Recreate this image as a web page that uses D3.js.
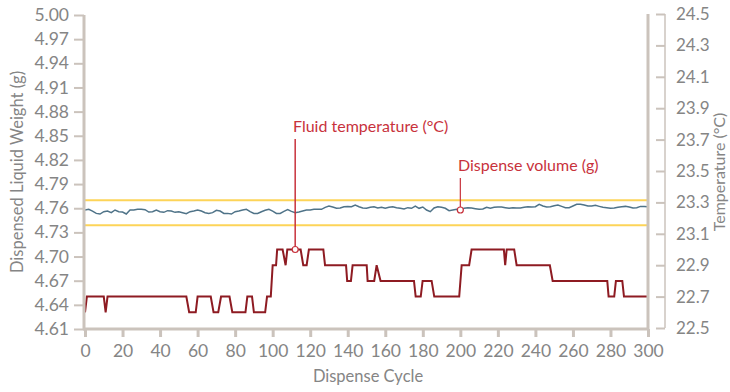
<!DOCTYPE html>
<html><head><meta charset="utf-8">
<script src="https://cdn.jsdelivr.net/npm/d3@7/dist/d3.min.js"></script>
<style>
body{margin:0;background:#fff;}
text{font-family:Lato,"Open Sans",sans-serif;}
</style></head>
<body><svg id="c" width="730" height="392"></svg>
<script>
const leftTicks = [5.00,4.97,4.94,4.91,4.88,4.85,4.82,4.79,4.76,4.73,4.70,4.67,4.64,4.61];
const rightTicks = [24.5,24.3,24.1,23.9,23.7,23.5,23.3,23.1,22.9,22.7,22.5];
const xTicks = [0,20,40,60,80,100,120,140,160,180,200,220,240,260,280,300];
const limitUpper = 4.77;
const limitLower = 4.739;
// dispense volume sampled every 2 cycles (0..300)
const volumeCycles = d3.range(0, 301, 2);
const volumeValues = [
4.7578,4.7586,4.7565,4.7536,4.7528,4.7557,4.7565,4.7545,4.7578,4.7557,
4.7553,4.7528,4.7578,4.7578,4.7586,4.7586,4.7582,4.7553,4.7557,4.7578,
4.7557,4.7549,4.7570,4.7565,4.7549,4.7557,4.7545,4.7532,4.7557,4.7565,
4.7578,4.7565,4.7545,4.7536,4.7545,4.7574,4.7565,4.7536,4.7536,4.7528,
4.7557,4.7565,4.7578,4.7586,4.7557,4.7536,4.7536,4.7557,4.7574,4.7586,
4.7565,4.7536,4.7536,4.7561,4.7582,4.7561,4.7545,4.7553,4.7565,4.7578,
4.7578,4.7586,4.7586,4.7586,4.7611,4.7627,4.7615,4.7599,4.7603,4.7619,
4.7623,4.7619,4.7640,4.7619,4.7603,4.7599,4.7611,4.7619,4.7603,4.7611,
4.7599,4.7611,4.7619,4.7607,4.7599,4.7590,4.7607,4.7599,4.7627,4.7599,
4.7615,4.7578,4.7557,4.7603,4.7619,4.7611,4.7599,4.7570,4.7578,4.7586,
4.7578,4.7599,4.7607,4.7603,4.7594,4.7586,4.7590,4.7611,4.7599,4.7611,
4.7615,4.7615,4.7607,4.7599,4.7607,4.7603,4.7603,4.7611,4.7619,4.7615,
4.7619,4.7648,4.7627,4.7615,4.7619,4.7632,4.7640,4.7623,4.7607,4.7607,
4.7627,4.7648,4.7648,4.7640,4.7627,4.7627,4.7636,4.7623,4.7611,4.7607,
4.7599,4.7603,4.7611,4.7619,4.7623,4.7615,4.7603,4.7607,4.7623,4.7623,
4.7619];
// fluid temperature step points
const tempCycles = [0,1,10,11,12,54,55.5,59,60,67,68.5,71,72.5,77,78.5,85.5,86.5,89,90,96,97,
99,100,101.8,102.4,105.3,106.9,107.8,114.9,116.3,118.1,119.3,127,127.9,139.1,139.7,141.7,142.6,
150.1,150.6,154.1,155.4,157.5,175.3,176.2,178.9,179.9,184.7,186.1,199.4,200.7,204.7,206,
223.2,223.9,224.7,228.7,230,247.7,249.2,278.3,279,282,282.9,286.3,287.2,300];
const tempValues = [22.6,22.7,22.7,22.6,22.7,22.7,22.6,22.6,22.7,22.7,22.6,22.6,22.7,22.7,22.6,22.6,22.7,22.7,22.6,22.6,22.7,
22.7,22.9,22.9,23.0,23.0,22.9,23.0,23.0,22.9,22.9,23.0,23.0,22.9,22.9,22.8,22.8,22.9,
22.9,22.8,22.8,22.9,22.8,22.8,22.7,22.7,22.8,22.8,22.7,22.7,22.9,22.9,23.0,
23.0,22.9,23.0,23.0,22.9,22.9,22.8,22.8,22.7,22.7,22.8,22.8,22.7,22.7];
const tempMarkCycle = 112, tempMarkValue = 23.0;
const volMarkCycle = 200;

const svg = d3.select("#c");
const x = d3.scaleLinear().domain([0,300]).range([85,648]);
const yL = d3.scaleLinear().domain([4.61,5.00]).range([329,15]);
const yR = d3.scaleLinear().domain([22.5,24.5]).range([328,14]);
const axisCol = "#cbc3bc", textCol = "#858585";

// yellow limit lines
[limitUpper, limitLower].forEach(v=>{
  svg.append("line").attr("x1",x(0)).attr("x2",x(300)).attr("y1",yL(v)).attr("y2",yL(v))
    .attr("stroke","#fdd458").attr("stroke-width",2);
});
// volume line
const vol = volumeCycles.map((c,i)=>[c,volumeValues[i]]);
svg.append("path").datum(vol).attr("fill","none").attr("stroke","#4f7388").attr("stroke-width",1.5)
  .attr("d", d3.line().x(d=>x(d[0])).y(d=>yL(d[1])));
// temperature line
const tmp = tempCycles.map((c,i)=>[c,tempValues[i]]);
svg.append("path").datum(tmp).attr("fill","none").attr("stroke","#8e1b22").attr("stroke-width",2)
  .attr("d", d3.line().x(d=>x(d[0])).y(d=>yR(d[1])));

// axes
const gL = svg.append("g").attr("transform","translate(84,0)")
  .call(d3.axisLeft(yL).tickValues(leftTicks).tickFormat(d3.format(".2f")).tickSize(10).tickPadding(5));
const gB = svg.append("g").attr("transform","translate(0,329)")
  .call(d3.axisBottom(x).tickValues(xTicks).tickSize(8).tickPadding(8));
const gR = svg.append("g").attr("transform","translate(665,0)")
  .call(d3.axisRight(yR).tickValues(rightTicks).tickFormat(d3.format(".1f")).tickSize(-9).tickPadding(11));
[gL,gB,gR].forEach(g=>{
  g.select(".domain").remove();
  g.selectAll(".tick line").attr("stroke",axisCol).attr("stroke-width",2);
  g.selectAll(".tick text").attr("fill",textCol).attr("font-size",17.5).attr("font-family","Lato,sans-serif");
});
gR.selectAll(".tick text").attr("font-size",17);
gB.selectAll(".tick line").attr("stroke-width",3);
svg.append("line").attr("x1",84).attr("x2",84).attr("y1",15).attr("y2",330).attr("stroke",axisCol).attr("stroke-width",3);
svg.append("line").attr("x1",83).attr("x2",649).attr("y1",329).attr("y2",329).attr("stroke",axisCol).attr("stroke-width",3);
svg.append("line").attr("x1",648).attr("x2",648).attr("y1",14).attr("y2",330).attr("stroke",axisCol).attr("stroke-width",3);
svg.append("line").attr("x1",665).attr("x2",665).attr("y1",yR(24.5)).attr("y2",yR(22.5)).attr("stroke",axisCol).attr("stroke-width",1.5);

// titles
svg.append("text").attr("transform","translate(23,172) rotate(-90)").attr("text-anchor","middle")
  .attr("fill",textCol).attr("font-size",16.5).text("Dispensed Liquid Weight (g)");
svg.append("text").attr("transform","translate(725,172) rotate(-90)").attr("text-anchor","middle")
  .attr("fill",textCol).attr("font-size",16).text("Temperature (°C)");
svg.append("text").attr("x",368).attr("y",382).attr("text-anchor","middle")
  .attr("fill",textCol).attr("font-size",16.5).text("Dispense Cycle");

// annotations
const annCol = "#c8323c";
const tx = x(tempMarkCycle), ty = yR(tempMarkValue);
svg.append("line").attr("x1",tx).attr("x2",tx).attr("y1",139).attr("y2",ty).attr("stroke",annCol).attr("stroke-width",1.5);
svg.append("circle").attr("cx",tx).attr("cy",ty).attr("r",3).attr("fill","#fff").attr("stroke",annCol).attr("stroke-width",1.2);
svg.append("text").attr("x",293).attr("y",132).attr("fill",annCol).attr("font-size",16).text("Fluid temperature (°C)");
const vi = volumeCycles.indexOf(volMarkCycle);
const vx = x(volMarkCycle), vy = yL(volumeValues[vi]);
svg.append("line").attr("x1",vx).attr("x2",vx).attr("y1",178).attr("y2",vy).attr("stroke",annCol).attr("stroke-width",1.2);
svg.append("circle").attr("cx",vx).attr("cy",vy).attr("r",3).attr("fill","#fff").attr("stroke",annCol).attr("stroke-width",1.2);
svg.append("text").attr("x",458).attr("y",171).attr("fill",annCol).attr("font-size",16).text("Dispense volume (g)");
</script></body></html>
